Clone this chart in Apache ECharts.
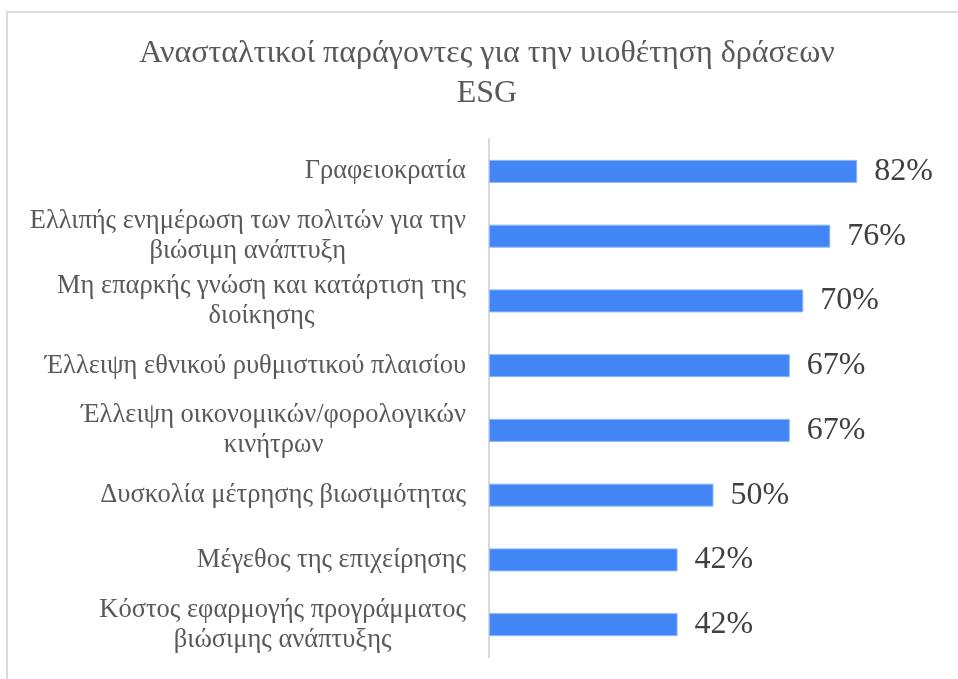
<!DOCTYPE html>
<html>
<head>
<meta charset="utf-8">
<script src="https://cdn.jsdelivr.net/npm/echarts@6/dist/echarts.min.js"></script>
<style>
html,body{margin:0;padding:0;background:#fff;}
#frame{position:absolute;left:6px;top:11px;width:960px;height:680px;border-left:2px solid #d9d9d9;border-top:2px solid #d9d9d9;}
#chart{position:absolute;left:0;top:0;width:958px;height:679px;}
</style>
</head>
<body>
<div id="frame"></div>
<div id="chart"></div>
<script>
const titleText = 'Ανασταλτικοί παράγοντες για την υιοθέτηση δράσεων\nESG';
const categories = [
  'Γραφειοκρατία',
  'Ελλιπής ενημέρωση των πολιτών για την\nβιώσιμη ανάπτυξη',
  'Μη επαρκής γνώση και κατάρτιση της\nδιοίκησης',
  'Έλλειψη εθνικού ρυθμιστικού πλαισίου',
  'Έλλειψη οικονομικών/φορολογικών\nκινήτρων',
  'Δυσκολία μέτρησης βιωσιμότητας',
  'Μέγεθος της επιχείρησης',
  'Κόστος εφαρμογής προγράμματος\nβιώσιμης ανάπτυξης'
];
const values = [82, 76, 70, 67, 67, 50, 42, 42];

const chart = echarts.init(document.getElementById('chart'), null, {renderer: 'canvas'});
chart.setOption({
  backgroundColor: 'transparent',
  animation: false,
  title: {
    text: titleText,
    left: 482,
    textAlign: 'center',
    top: 29,
    textStyle: {
      fontFamily: 'Liberation Serif',
      fontSize: 32,
      fontWeight: 'normal',
      color: '#595959',
      lineHeight: 40
    }
  },
  grid: {left: 489, top: 139, width: 449, height: 518, containLabel: false},
  xAxis: {
    type: 'value',
    min: 0,
    max: 100,
    show: false
  },
  yAxis: {
    type: 'category',
    data: categories,
    inverse: true,
    axisLine: {show: true, lineStyle: {color: '#d9d9d9', width: 2}},
    axisTick: {show: false},
    axisLabel: {
      margin: 23,
      formatter: function (v) { return '{a|' + v.split('\n').join('}\n{a|') + '}'; },
      rich: {
        a: {
          fontFamily: 'Liberation Serif',
          fontSize: 26.5,
          color: '#595959',
          lineHeight: 30,
          align: 'center'
        }
      }
    }
  },
  series: [{
    type: 'bar',
    data: values,
    barWidth: 23,
    itemStyle: {color: '#4285F4', borderColor: '#8fb6f7', borderWidth: 1},
    label: {
      show: true,
      position: 'right',
      distance: 17,
      formatter: '{c}%',
      fontFamily: 'Liberation Serif',
      fontSize: 32,
      color: '#404040'
    }
  }]
});
</script>
</body>
</html>
